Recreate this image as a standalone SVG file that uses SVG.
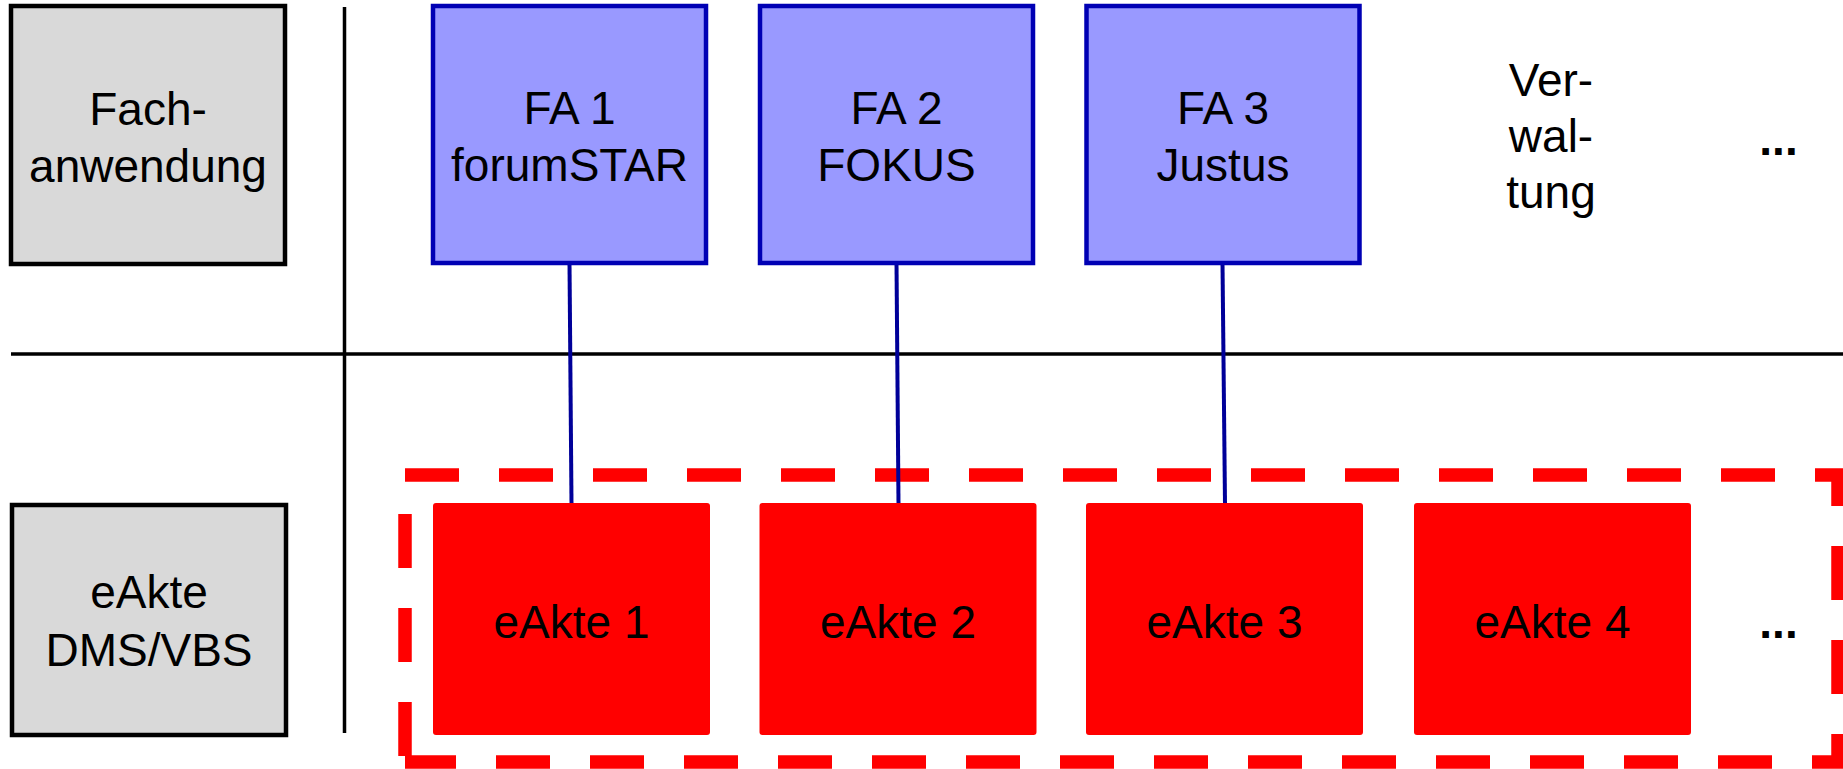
<svg xmlns="http://www.w3.org/2000/svg" width="1843" height="769" viewBox="0 0 1843 769">
<style>
text{font-family:"Liberation Sans",Arial,sans-serif;font-size:46px;fill:#000;text-anchor:middle}
.dots{font-weight:bold}
.lbl{fill:#d9d9d9;stroke:#000;stroke-width:4.5}
.fa{fill:#9999ff;stroke:#0000b4;stroke-width:4.5}
.ea{fill:#ff0000}
.grid{stroke:#000;stroke-width:3.5;fill:none}
.conn{stroke:#000099;stroke-width:4;fill:none}
.dash{stroke:#ff0000;stroke-width:13.5;fill:none;stroke-dasharray:54 40}
</style>
<g id="grid">
<line class="grid" x1="344.5" y1="7" x2="344.5" y2="733"/>
<line class="grid" x1="11" y1="354" x2="1843" y2="354"/>
</g>
<g id="label-fachanwendung">
<rect class="lbl" x="11" y="6" width="274" height="258"/>
<text x="148" y="125">Fach-</text>
<text x="148" y="182">anwendung</text>
</g>
<g id="label-eakte">
<rect class="lbl" x="12" y="505" width="274" height="230"/>
<text x="149" y="608">eAkte</text>
<text x="149" y="666">DMS/VBS</text>
</g>
<g id="eakte-group">
<path class="dash" d="M405,475 H1838 V762 H405"/>
<path class="dash" d="M405,475 V762" stroke-dashoffset="55"/>
</g>
<g id="connectors">
<line class="conn" x1="569.5" y1="263" x2="571.5" y2="504"/>
<line class="conn" x1="896.5" y1="263" x2="898.5" y2="504"/>
<line class="conn" x1="1222.5" y1="263" x2="1225" y2="504"/>
</g>
<g id="fa1">
<rect class="fa" x="433" y="6" width="273" height="257"/>
<text x="569.5" y="124">FA 1</text>
<text x="569.5" y="181">forumSTAR</text>
</g>
<g id="fa2">
<rect class="fa" x="760" y="6" width="273" height="257"/>
<text x="896.5" y="124">FA 2</text>
<text x="896.5" y="181">FOKUS</text>
</g>
<g id="fa3">
<rect class="fa" x="1086.5" y="6" width="273" height="257"/>
<text x="1223" y="124">FA 3</text>
<text x="1223" y="181">Justus</text>
</g>
<g id="verwaltung">
<text x="1551" y="96">Ver-</text>
<text x="1551" y="152">wal-</text>
<text x="1551" y="208">tung</text>
</g>
<g id="more-top">
<text class="dots" x="1778.5" y="155">...</text>
</g>
<g id="eakte1">
<rect class="ea" x="433" y="503" width="277" height="232" rx="3"/>
<text x="571.5" y="638">eAkte 1</text>
</g>
<g id="eakte2">
<rect class="ea" x="759.5" y="503" width="277" height="232" rx="3"/>
<text x="898" y="638">eAkte 2</text>
</g>
<g id="eakte3">
<rect class="ea" x="1086" y="503" width="277" height="232" rx="3"/>
<text x="1224.5" y="638">eAkte 3</text>
</g>
<g id="eakte4">
<rect class="ea" x="1414" y="503" width="277" height="232" rx="3"/>
<text x="1552.5" y="638">eAkte 4</text>
</g>
<g id="more-bottom">
<text class="dots" x="1778.5" y="638">...</text>
</g>
</svg>
